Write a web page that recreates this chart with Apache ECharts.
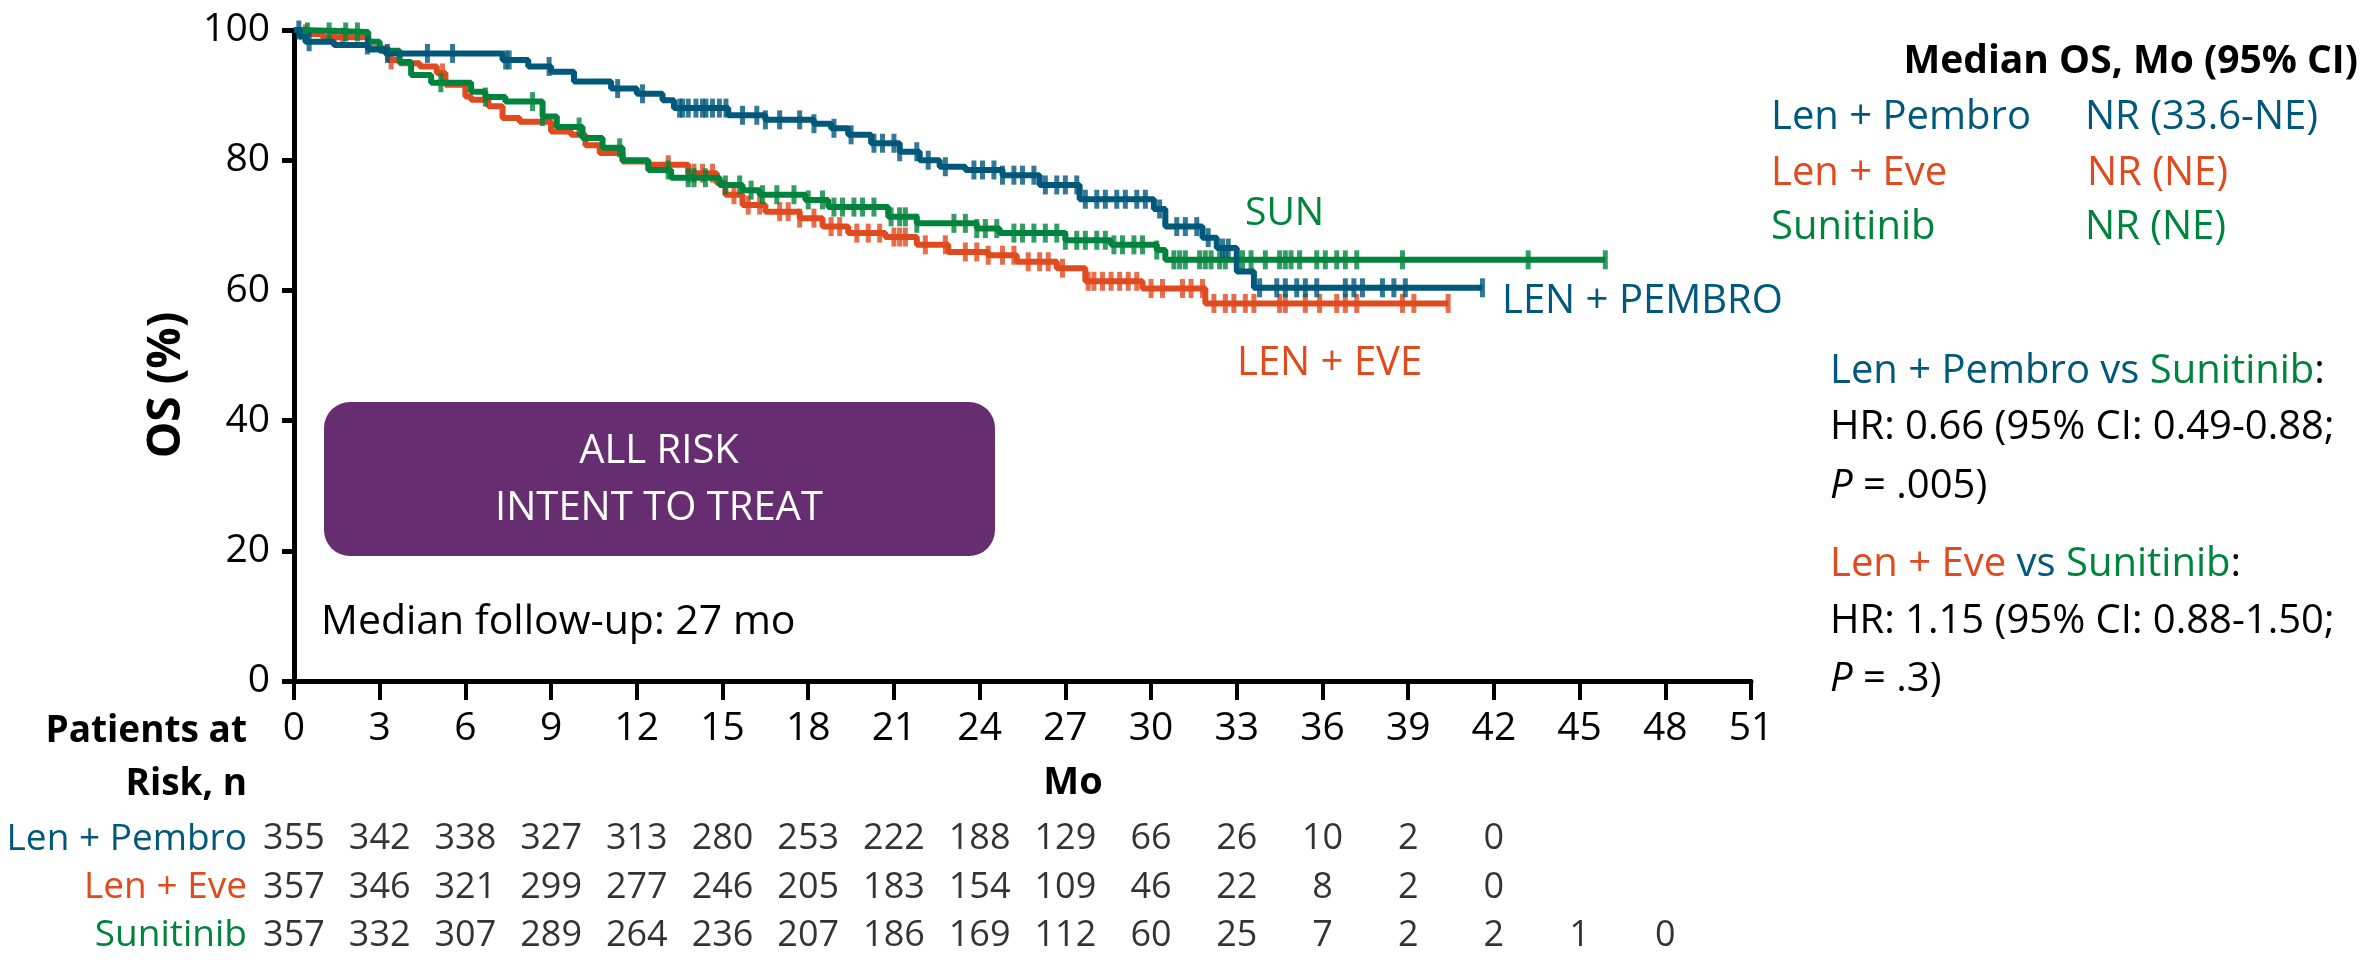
<!DOCTYPE html>
<html>
<head>
<meta charset="utf-8">
<script src="https://cdn.jsdelivr.net/npm/echarts@6/dist/echarts.min.js"></script>
<style>
html,body{margin:0;padding:0;background:#fff;}
#chart{width:2374px;height:960px;}
</style>
</head>
<body>
<div id="chart"></div>
<script>
// ---------------- DATA ----------------
const xTicks = [0,3,6,9,12,15,18,21,24,27,30,33,36,39,42,45,48,51];
const yTicks = [0,20,40,60,80,100];

// Kaplan-Meier steps: [month, OS %]
const pembroSteps = [[0,100],[0.2,99.0],[0.4,98.2],[1.4,97.7],[2.6,97.0],[3.2,96.4],[7.3,95.4],[8.2,94.4],[9.0,93.6],[9.8,92.1],[11.1,91.0],[12.0,90.2],[12.9,89.2],[13.3,88.0],[15.2,86.9],[16.5,86.2],[18.2,85.6],[18.8,84.9],[19.4,83.9],[20.2,82.6],[21.2,81.3],[21.9,80.0],[22.6,79.0],[23.5,78.5],[24.8,77.7],[26.1,76.2],[27.5,74.0],[30.1,72.5],[30.5,69.8],[31.8,68.1],[32.3,66.5],[33.0,62.9],[33.6,60.4],[41.6,60.4]];
const eveSteps = [[0,100],[0.4,99.4],[1.0,98.9],[2.6,97.2],[3.3,95.4],[3.7,94.9],[4.4,94.4],[5.0,93.4],[5.3,91.6],[6.0,89.8],[6.2,89.3],[6.8,88.3],[7.3,86.5],[7.9,85.9],[9.0,84.4],[9.7,83.9],[10.2,82.3],[10.7,81.1],[11.5,79.8],[12.4,79.3],[13.8,78.0],[14.8,76.5],[15.1,74.7],[15.7,73.1],[16.5,72.1],[17.7,71.1],[18.5,69.8],[19.4,68.8],[20.7,68.2],[21.8,67.0],[22.9,65.9],[24.3,65.4],[25.3,64.4],[26.7,63.4],[27.7,61.4],[29.7,60.3],[31.9,58.0],[40.4,58.0]];
const sunSteps = [[0,100],[0.3,99.7],[2.6,98.2],[3.0,96.8],[3.7,95.1],[4.1,93.1],[4.8,91.9],[6.2,90.5],[6.7,89.7],[7.4,89.0],[8.7,86.7],[9.2,85.1],[10.1,83.4],[10.8,81.9],[11.5,80.0],[12.4,78.5],[13.2,77.3],[14.9,76.2],[15.7,75.4],[16.3,74.7],[17.9,73.9],[18.7,72.8],[20.8,71.3],[21.8,70.3],[23.9,69.5],[24.7,68.8],[27.0,67.7],[28.6,67.0],[30.2,66.2],[30.5,64.7],[45.9,64.7]];

// Censoring times (months)
const pembroCensor = [0.17,0.53,2.57,3.27,4.67,5.55,7.41,7.53,8.93,11.33,12.2,13.5,13.6,13.8,14.07,14.3,14.42,14.65,14.89,15.12,15.7,16.2,16.5,17.0,17.7,18.2,18.9,19.5,20.3,20.6,21.0,21.2,21.8,22.2,22.8,23.8,24.1,24.5,24.8,25.2,25.5,25.9,26.3,26.7,27.0,27.4,27.7,28.1,28.4,28.8,29.1,29.5,29.8,30.3,30.9,31.2,31.6,32.0,32.5,32.7,33.8,34.4,34.7,35.1,35.4,35.8,36.8,37.1,37.4,38.1,38.5,38.9,41.6];
const eveCensor = [0.4,1.4,1.7,3.4,5.2,13.1,13.8,14.0,14.3,14.65,15.4,15.9,16.3,17.0,17.3,17.7,18.2,18.8,19.1,19.7,20.1,20.5,21.0,21.2,21.4,22.1,22.8,23.5,23.9,24.3,24.8,25.2,25.7,26.1,26.4,26.9,27.8,28.0,28.3,28.6,28.9,29.2,29.5,30.0,30.4,31.1,31.4,31.8,32.2,32.6,32.9,33.3,33.6,34.5,34.7,35.4,35.9,36.5,36.8,37.2,38.8,39.2,40.4];
const sunCensor = [0.47,1.23,1.81,2.22,5.14,6.7,8.35,8.7,9.98,11.4,13.1,13.8,14.0,14.4,15.1,15.6,16.0,16.4,16.9,17.5,18.0,18.5,18.9,19.2,19.6,19.9,20.3,20.9,21.2,21.4,21.8,23.1,23.5,23.9,24.2,24.6,25.2,25.5,25.9,26.3,26.7,27.0,27.4,27.7,28.1,28.4,28.7,29.0,29.4,29.7,30.2,30.8,31.0,31.2,31.7,31.9,32.1,32.4,32.6,33.2,33.5,34.0,34.5,34.7,34.9,35.2,35.8,36.1,36.5,36.8,37.2,38.8,43.2,45.9];

// Patients at risk
const riskMonths = [0,3,6,9,12,15,18,21,24,27,30,33,36,39,42,45,48];
const riskGroups = ['Len + Pembro','Len + Eve','Sunitinib'];
const riskPembro = [355,342,338,327,313,280,253,222,188,129,66,26,10,2,0];
const riskEve = [357,346,321,299,277,246,205,183,154,109,46,22,8,2,0];
const riskSun = [357,332,307,289,264,236,207,186,169,112,60,25,7,2,2,1,0];

const seriesNames = ['Len + Pembro','Len + Eve','Sunitinib'];
const curveLabels = ['LEN + PEMBRO','LEN + EVE','SUN'];
const medianOS = ['NR (33.6-NE)','NR (NE)','NR (NE)'];

// ---------------- STYLE ----------------
const TEAL = '#00587a', ORANGE = '#e04a1f', GREEN = '#00843d', PURPLE = '#662d71';
const FONT = '"Open Sans", "DejaVu Sans", sans-serif';

function survAt(steps, t){
  let v = steps[0][1];
  for (const s of steps){ if (s[0] <= t) v = s[1]; else break; }
  return v;
}

const chart = echarts.init(document.getElementById('chart'), null, {renderer:'canvas'});

function kmLine(name, steps, color, z){
  return {name, type:'line', step:'end', data:steps, showSymbol:false, symbol:'none',
    lineStyle:{color, width:6}, itemStyle:{color}, z, animation:false, silent:true};
}
function censor(name, steps, times, color, z){
  return {name:name+' censor', type:'scatter', data:times.map(t=>[t, survAt(steps,t)]),
    symbol:'rect', symbolSize:[5,19], itemStyle:{color}, z, animation:false, silent:true};
}

const riskData = [];
[riskPembro, riskEve, riskSun].forEach((arr, gi) => {
  arr.forEach((n, i) => riskData.push([riskMonths[i], riskGroups[gi], n]));
});

const txt = (text, x, y, opts) => Object.assign({type:'text', x, y, silent:true,
  style:Object.assign({text, fill:'#000', font:'40px '+FONT, align:'left', verticalAlign:'middle'}, opts||{})});

const option = {
  backgroundColor:'#fff',
  animation:false,
  grid:[
    {left:294, right:623, top:30, bottom:279, containLabel:false},
    {left:294, right:623, top:815, height:156, containLabel:false}
  ],
  xAxis:[
    {type:'value', gridIndex:0, min:0, max:51, interval:3,
     axisLine:{show:true, onZero:false, lineStyle:{color:'#000', width:5}},
     axisTick:{show:true, length:19, lineStyle:{color:'#000', width:4}},
     axisLabel:{color:'#000', fontFamily:FONT, fontSize:39, margin:28},
     splitLine:{show:false}},
    {type:'value', gridIndex:1, min:0, max:51, show:false}
  ],
  yAxis:[
    {type:'value', gridIndex:0, min:0, max:100, interval:20,
     axisLine:{show:true, lineStyle:{color:'#000', width:5}},
     axisTick:{show:true, length:12, lineStyle:{color:'#000', width:5}},
     axisLabel:{color:'#000', fontFamily:FONT, fontSize:39, margin:24},
     splitLine:{show:false}},
    {type:'category', gridIndex:1, data:riskGroups, inverse:true,
     axisLine:{show:false}, axisTick:{show:false}, splitLine:{show:false},
     axisLabel:{margin:47, fontFamily:FONT, fontSize:37,
       formatter:v => '{'+(v==='Len + Pembro'?'p':v==='Len + Eve'?'e':'s')+'|'+v+'}',
       rich:{p:{color:TEAL, fontFamily:FONT, fontSize:37}, e:{color:ORANGE, fontFamily:FONT, fontSize:37}, s:{color:GREEN, fontFamily:FONT, fontSize:37}}}}
  ],
  series:[
    kmLine(seriesNames[1], eveSteps, ORANGE, 2),
    kmLine(seriesNames[2], sunSteps, GREEN, 3),
    kmLine(seriesNames[0], pembroSteps, TEAL, 4),
    censor(seriesNames[1], eveSteps, eveCensor, ORANGE, 2),
    censor(seriesNames[2], sunSteps, sunCensor, GREEN, 3),
    censor(seriesNames[0], pembroSteps, pembroCensor, TEAL, 4),
    {type:'scatter', xAxisIndex:1, yAxisIndex:1, data:riskData, symbolSize:1,
     itemStyle:{color:'rgba(0,0,0,0)'}, silent:true,
     label:{show:true, position:'inside', formatter:p=>String(p.value[2]),
       color:'#000', fontFamily:FONT, fontSize:36}}
  ],
  graphic:[
    {type:'text', x:167, y:385, rotation:Math.PI/2, silent:true,
     style:{text:'OS (%)', font:'bold 46px '+FONT, fill:'#000', align:'center', verticalAlign:'middle'}},
    {type:'rect', shape:{x:324, y:402, width:671, height:154, r:26}, style:{fill:PURPLE}, silent:true},
    txt('ALL RISK', 659, 452, {fill:'#fff', align:'center'}),
    txt('INTENT TO TREAT', 659, 509, {fill:'#fff', align:'center'}),
    txt('Median follow-up: 27 mo', 321, 622, {font:'41px '+FONT}),
    txt(curveLabels[2], 1245, 214, {fill:GREEN, font:'39px '+FONT}),
    txt(curveLabels[0], 1502, 302, {fill:TEAL}),
    txt(curveLabels[1], 1237, 364, {fill:ORANGE}),
    txt('Patients at', 247, 731, {font:'bold 37px '+FONT, align:'right'}),
    txt('Risk, n', 247, 784, {font:'bold 37px '+FONT, align:'right'}),
    txt('Mo', 1073, 783, {font:'bold 38px '+FONT, align:'center'}),
    txt('Median OS, Mo (95% CI)', 2358, 62, {font:'bold 39px '+FONT, align:'right'}),
    txt(seriesNames[0], 1771, 118, {fill:TEAL}),
    txt(seriesNames[1], 1771, 174, {fill:ORANGE}),
    txt(seriesNames[2], 1771, 228, {fill:GREEN}),
    txt(medianOS[0], 2085, 118, {fill:TEAL}),
    txt(medianOS[1], 2087, 174, {fill:ORANGE}),
    txt(medianOS[2], 2085, 228, {fill:GREEN}),
    {type:'text', x:1830, y:372, silent:true, style:{
      text:'{p|Len + Pembro vs }{s|Sunitinib}{k|:}', align:'left', verticalAlign:'middle',
      rich:{p:{fill:TEAL, font:'40px '+FONT}, s:{fill:GREEN, font:'40px '+FONT}, k:{fill:'#000', font:'40px '+FONT}}}},
    txt('HR: 0.66 (95% CI: 0.49-0.88;', 1830, 428),
    {type:'text', x:1830, y:487, silent:true, style:{
      text:'{i|P}{n| = .005)}', align:'left', verticalAlign:'middle',
      rich:{i:{fill:'#000', font:'italic 40px '+FONT}, n:{fill:'#000', font:'40px '+FONT}}}},
    {type:'text', x:1830, y:565, silent:true, style:{
      text:'{e|Len + Eve }{p|vs }{s|Sunitinib}{k|:}', align:'left', verticalAlign:'middle',
      rich:{e:{fill:ORANGE, font:'40px '+FONT}, p:{fill:TEAL, font:'40px '+FONT}, s:{fill:GREEN, font:'40px '+FONT}, k:{fill:'#000', font:'40px '+FONT}}}},
    txt('HR: 1.15 (95% CI: 0.88-1.50;', 1830, 622),
    {type:'text', x:1830, y:680, silent:true, style:{
      text:'{i|P}{n| = .3)}', align:'left', verticalAlign:'middle',
      rich:{i:{fill:'#000', font:'italic 40px '+FONT}, n:{fill:'#000', font:'40px '+FONT}}}}
  ]
};
chart.setOption(option);
</script>
</body>
</html>
